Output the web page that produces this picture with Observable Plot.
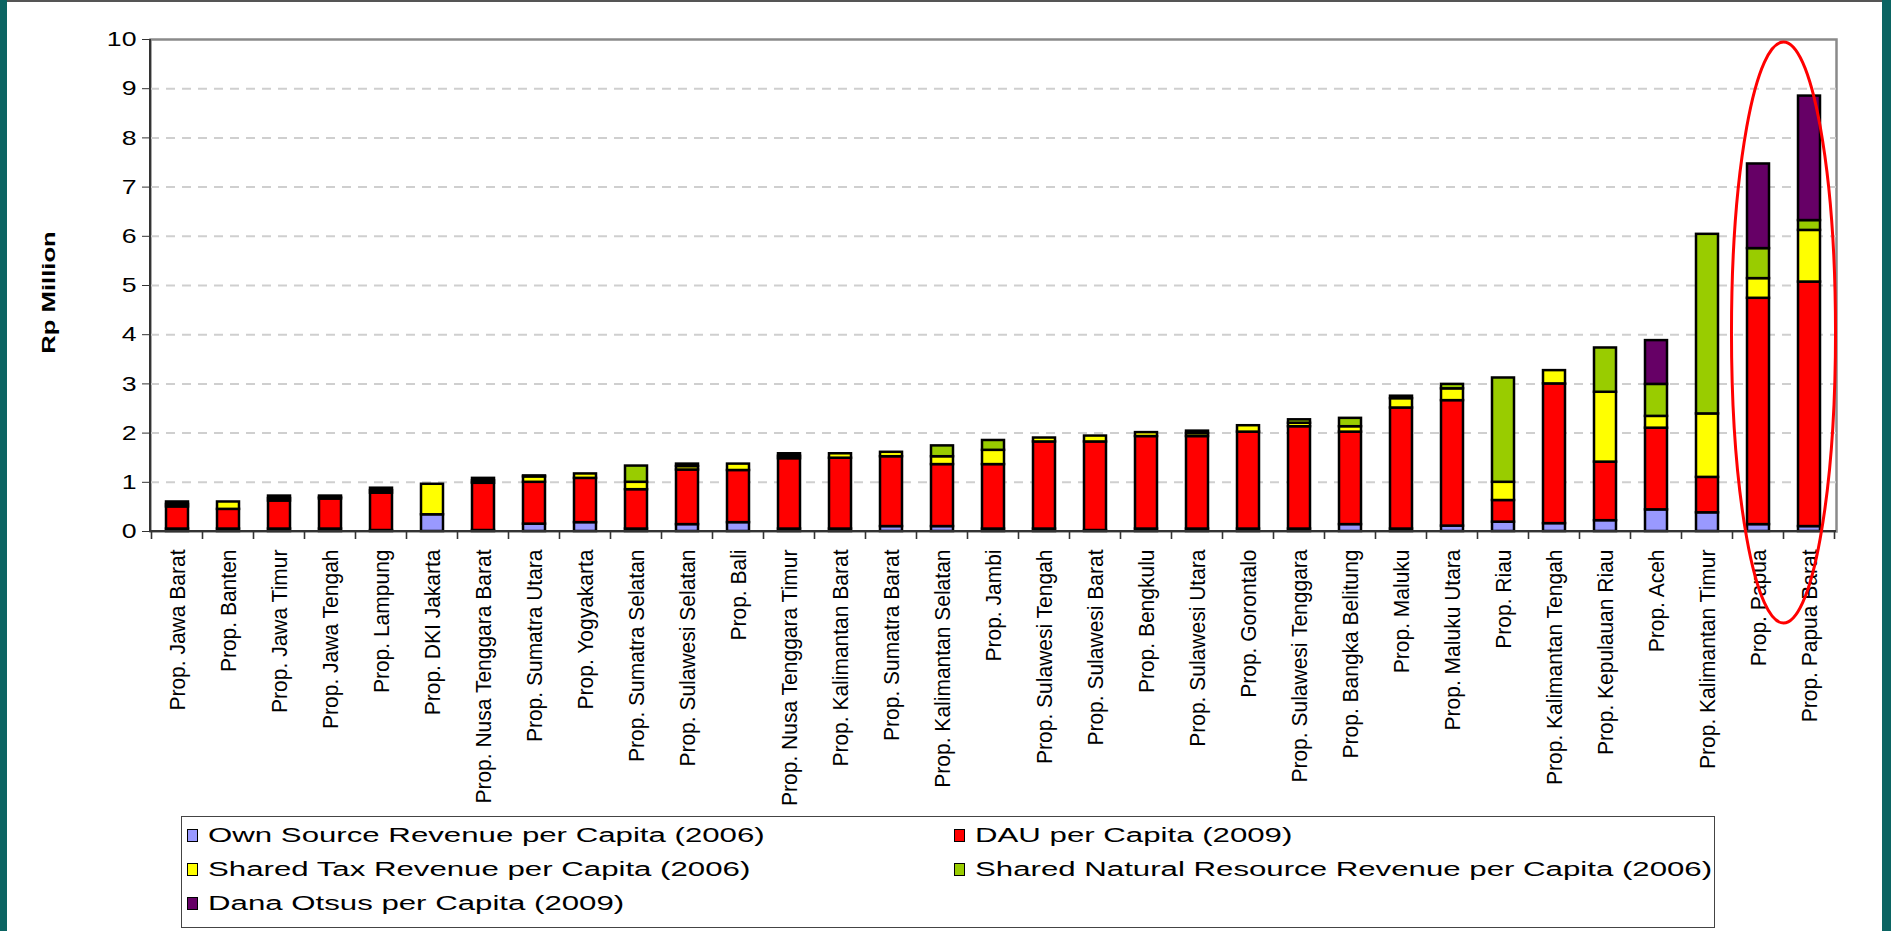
<!DOCTYPE html>
<html>
<head>
<meta charset="utf-8">
<script src="https://cdn.jsdelivr.net/npm/d3@7"></script>
<script src="https://cdn.jsdelivr.net/npm/@observablehq/plot@0.6"></script>
<style>
html, body { margin: 0; padding: 0; background: #fff; }
#page { position: relative; width: 1891px; height: 931px; overflow: hidden; background: #fff; font-family: "Liberation Sans", Arial, sans-serif; }
#edgeL { position: absolute; left: 0; top: 0; width: 7px; height: 931px; background: #0b6462; }
#edgeR { position: absolute; right: 0; top: 0; width: 9px; height: 931px; background: #0b6462; }
#edgeT { position: absolute; left: 0; top: 0; width: 1891px; height: 2px; background: #555; }
#chart { position: absolute; left: 0; top: 0; }
#legend { position: absolute; left: 181px; top: 816px; width: 1534px; height: 112px; border: 1px solid #444; box-sizing: border-box; background: #fff; }
.item { position: absolute; display: flex; align-items: center; height: 24px; margin-top: -12px; }
.sw { width: 11px; height: 13px; border: 1.5px solid #000; box-sizing: border-box; flex: none; }
.lab { font-size: 20px; color: #000; white-space: nowrap; margin-left: 10px; transform: scaleX(1.56); transform-origin: left center; }
</style>
</head>
<body>
<div id="page">
  <div id="chart"></div>
  <div id="legend"></div>
  <div id="edgeT"></div>
  <div id="edgeL"></div>
  <div id="edgeR"></div>
</div>
<script>
// ---------------- data ----------------
const categories = [
  "Prop. Jawa Barat", "Prop. Banten", "Prop. Jawa Timur", "Prop. Jawa Tengah", "Prop. Lampung",
  "Prop. DKI Jakarta", "Prop. Nusa Tenggara Barat", "Prop. Sumatra Utara", "Prop. Yogyakarta",
  "Prop. Sumatra Selatan", "Prop. Sulawesi Selatan", "Prop. Bali", "Prop. Nusa Tenggara Timur",
  "Prop. Kalimantan Barat", "Prop. Sumatra Barat", "Prop. Kalimantan Selatan", "Prop. Jambi",
  "Prop. Sulawesi Tengah", "Prop. Sulawesi Barat", "Prop. Bengkulu", "Prop. Sulawesi Utara",
  "Prop. Gorontalo", "Prop. Sulawesi Tenggara", "Prop. Bangka Belitung", "Prop. Maluku",
  "Prop. Maluku Utara", "Prop. Riau", "Prop. Kalimantan Tengah", "Prop. Kepulauan Riau",
  "Prop. Aceh", "Prop. Kalimantan Timur", "Prop. Papua", "Prop. Papua Barat"
];
const ownSource     = [0.05,0.05,0.05,0.05,0.02,0.34,0.02,0.15,0.18,0.05,0.14,0.18,0.05,0.05,0.10,0.10,0.05,0.05,0.02,0.05,0.05,0.05,0.05,0.14,0.05,0.11,0.19,0.16,0.22,0.44,0.38,0.14,0.10];
const dau           = [0.45,0.40,0.57,0.61,0.76,0.00,0.96,0.85,0.90,0.80,1.11,1.06,1.43,1.44,1.42,1.26,1.31,1.77,1.80,1.88,1.88,1.97,2.08,1.88,2.46,2.55,0.44,2.84,1.19,1.66,0.72,4.60,4.97];
const sharedTax     = [0.05,0.15,0.05,0.03,0.05,0.62,0.05,0.11,0.09,0.15,0.07,0.13,0.05,0.09,0.09,0.16,0.29,0.08,0.12,0.08,0.06,0.13,0.07,0.11,0.19,0.24,0.37,0.27,1.42,0.24,1.29,0.40,1.05];
const sharedNatural = [0.05,0.00,0.05,0.03,0.05,0.00,0.05,0.02,0.00,0.33,0.05,0.00,0.05,0.00,0.00,0.22,0.20,0.00,0.00,0.00,0.05,0.00,0.07,0.17,0.05,0.09,2.12,0.00,0.90,0.65,3.65,0.61,0.20];
const danaOtsus     = [0,0,0,0,0,0,0,0,0,0,0,0,0,0,0,0,0,0,0,0,0,0,0,0,0,0,0,0,0,0.89,0,1.72,2.53];

const seriesNames = [
  "Own Source Revenue per Capita (2006)",
  "DAU per Capita (2009)",
  "Shared Tax Revenue per Capita (2006)",
  "Shared Natural Resource Revenue per Capita (2006)",
  "Dana Otsus per Capita (2009)"
];
const seriesColors = ["#9999FF", "#FF0000", "#FFFF00", "#99CC00", "#660066"];
const yTicks = [0,1,2,3,4,5,6,7,8,9,10];
const yGrid = [1,2,3,4,5,6,7,8,9];
const yLabel = "Rp Million";
const highlightCats = ["Prop. Papua", "Prop. Papua Barat"];
const highlightSpan = [-1.87, 9.94];

// ---------------- build table ----------------
const seriesValues = [ownSource, dau, sharedTax, sharedNatural, danaOtsus];
const rows = [];
categories.forEach((c, i) => {
  seriesNames.forEach((s, j) => {
    const v = seriesValues[j][i];
    if (v > 0) rows.push({province: c, series: s, value: v});
  });
});

const FONT = '"Liberation Sans", Arial, sans-serif';

// axis lines and x ticks at band boundaries
function axisDecor(index, scales, values, dims) {
  const x = scales.x, y = scales.y;
  const g = d3.create("svg:g");
  const gap = (x.step() - x.bandwidth()) / 2;
  const y0 = y(0), y1 = y(10);
  const bounds = categories.map(c => x(c) - gap);
  bounds.push(x(categories[categories.length - 1]) + x.bandwidth() + gap);
  g.selectAll("line.xt").data(bounds).join("line")
    .attr("x1", d => d).attr("x2", d => d)
    .attr("y1", y0).attr("y2", y0 + 8)
    .attr("stroke", "#333").attr("stroke-width", 1.6);
  g.append("line").attr("x1", dims.marginLeft).attr("x2", dims.marginLeft)
    .attr("y1", y1).attr("y2", y0 + 1).attr("stroke", "#333").attr("stroke-width", 2);
  g.append("line").attr("x1", dims.marginLeft).attr("x2", dims.width - dims.marginRight)
    .attr("y1", y0).attr("y2", y0).attr("stroke", "#333").attr("stroke-width", 2);
  return g.node();
}

function highlight(index, scales) {
  const x = scales.x, y = scales.y;
  const a = x(highlightCats[0]), b = x(highlightCats[1]) + x.bandwidth();
  const cx = (a + b) / 2;
  const rx = x.step() * 1.02;
  const cy = (y(highlightSpan[0]) + y(highlightSpan[1])) / 2;
  const ry = (y(highlightSpan[0]) - y(highlightSpan[1])) / 2;
  const g = d3.create("svg:g");
  g.append("ellipse").attr("cx", cx).attr("cy", cy).attr("rx", rx).attr("ry", ry)
    .attr("fill", "none").attr("stroke", "#FF0000").attr("stroke-width", 3);
  return g.node();
}

const chart = Plot.plot({
  width: 1891,
  height: 812,
  marginLeft: 150,
  marginRight: 55,
  marginTop: 39,
  marginBottom: 281,
  style: {fontFamily: FONT, color: "#000", background: "transparent", overflow: "visible"},
  x: {domain: categories, paddingInner: 0.57, paddingOuter: 0.285, axis: null},
  y: {domain: [0, 10], axis: null},
  color: {domain: seriesNames, range: seriesColors},
  marks: [
    Plot.frame({stroke: "#8a8a8a", strokeWidth: 2.5}),
    Plot.ruleY(yGrid, {stroke: "#cfcfcf", strokeWidth: 2, strokeDasharray: "9,7"}),
    Plot.barY(rows, {x: "province", y: "value", fill: "series", stroke: "#000", strokeWidth: 2.5}),
    Plot.axisY({ticks: yTicks, tickSize: 8, tickPadding: 6, fontSize: 21, label: null, stroke: "#333"}),
    Plot.axisX({tickSize: 0, tickRotate: -90, tickPadding: 18, fontSize: 22, label: null}),
    Plot.text([yLabel], {frameAnchor: "left", textAnchor: "middle", dx: -102, dy: 7, rotate: -90, fontWeight: "bold", fontSize: 19}),
    axisDecor,
    highlight
  ]
});

// adjust glyph proportions along the reading direction to match the reference typography
d3.select(chart).selectAll('g[aria-label="x-axis tick label"] text')
  .attr("transform", function() { return (this.getAttribute("transform") || "") + " scale(0.955,1)"; });
d3.select(chart).selectAll('g[aria-label="y-axis tick label"] text')
  .attr("transform", function() { return (this.getAttribute("transform") || "") + " scale(1.27,1)"; });
d3.select(chart).selectAll("text").filter(function() { return this.textContent === yLabel; })
  .attr("transform", function() { return (this.getAttribute("transform") || "") + " scale(1.35,1)"; });

document.getElementById("chart").appendChild(chart);

// ---------------- legend ----------------
const legend = d3.select("#legend");
const legendPos = [[5, 18], [772, 18], [5, 52], [772, 52], [5, 86]];
seriesNames.forEach((s, i) => {
  const it = legend.append("div").attr("class", "item")
    .style("left", legendPos[i][0] + "px").style("top", legendPos[i][1] + "px");
  it.append("div").attr("class", "sw").style("background", seriesColors[i]);
  it.append("span").attr("class", "lab").text(s);
});
</script>
</body>
</html>
